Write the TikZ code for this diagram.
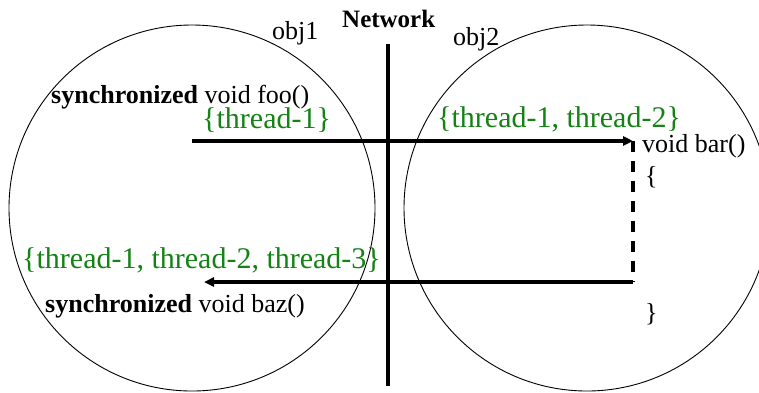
\documentclass[tikz,border=0pt]{standalone}
\usepackage{fontspec}
\setmainfont{Liberation Serif}
\usetikzlibrary{arrows.meta}
\definecolor{tgreen}{RGB}{20,130,20}
\begin{document}
\begin{tikzpicture}[x=1pt,y=-1pt,
  obj/.style={draw=black,line width=0.9pt},
  lbl/.style={inner sep=0pt,anchor=base west,font=\fontsize{26}{28}\selectfont},
  glbl/.style={inner sep=0pt,anchor=base west,text=tgreen,font=\fontsize{30}{32}\selectfont},
  msg/.style={line width=3.2pt,-{Triangle[length=10pt,width=9pt]}},
  wait/.style={line width=3.2pt,dash pattern=on 11pt off 9pt}]
\useasboundingbox (0,0) rectangle (759,392);
\begin{scope}
\clip (0,0) rectangle (759,392);
\draw[obj] (192,208) circle[radius=183];
\draw[obj] (587,208) circle[radius=183];
\end{scope}
\node[lbl,font=\fontsize{25}{27}\selectfont\bfseries] (net) at (342,27) {Network};
\coordinate (ntop) at (388,44);
\coordinate (nbot) at (388,386);
\draw[line width=4pt] (ntop) -- (nbot);
\node[lbl] (o1) at (272,39) {obj1};
\node[lbl] (o2) at (453,45) {obj2};
\node[lbl] (foo) at (51,103) {\textbf{synchronized} void foo()};
\node[glbl] (t1) at (202,128) {\{thread-1\}};
\node[glbl] (t12) at (437,127) {\{thread-1, thread-2\}};
\node[lbl] (bar) at (642,152) {void bar()};
\node[lbl] (ob) at (645,184) {\{};
\node[lbl] (cb) at (645,321) {\}};
\node[glbl] (t123) at (22,268) {\{thread-1, thread-2, thread-3\}};
\node[lbl] (baz) at (45,312) {\textbf{synchronized} void baz()};
\coordinate (s1) at (192,141);
\coordinate (e1) at (633,141);
\coordinate (s2) at (633,282);
\coordinate (e2) at (204,282);
\draw[msg] (s1) -- (e1);
\draw[wait] (e1) -- (s2);
\draw[msg] (s2) -- (e2);
\end{tikzpicture}
\end{document}
